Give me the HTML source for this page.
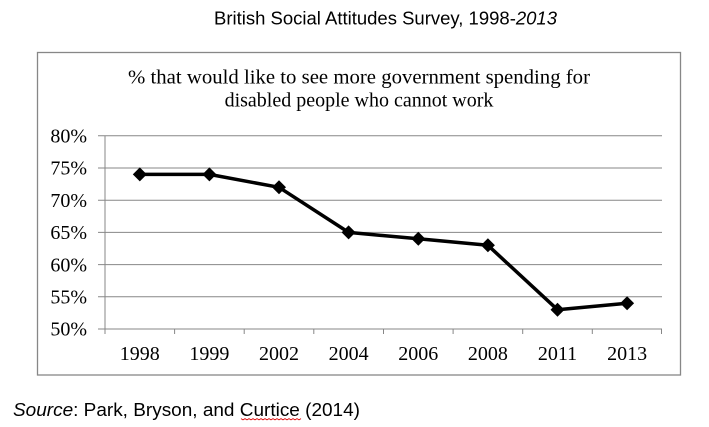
<!DOCTYPE html>
<html>
<head>
<meta charset="utf-8">
<style>
  html, body { margin:0; padding:0; background:#fff; }
  svg { display:block; }
</style>
</head>
<body>
<svg width="709" height="427" viewBox="0 0 709 427" xmlns="http://www.w3.org/2000/svg">
  <rect x="0" y="0" width="709" height="427" fill="#fff"/>
  <!-- Top title -->
  <text x="214" y="24.5" font-family="Liberation Sans, Arial, sans-serif" font-size="18" fill="#000" textLength="343" lengthAdjust="spacingAndGlyphs">British Social Attitudes Survey, 1998-<tspan font-style="italic">2013</tspan></text>

  <!-- Chart box -->
  <rect x="37.5" y="52.5" width="643" height="322.5" fill="#fff" stroke="#878787" stroke-width="1.3"/>

  <!-- Chart title -->
  <text x="359" y="83.3" text-anchor="middle" font-family="Liberation Serif, Times New Roman, serif" font-size="20" fill="#000" textLength="462" lengthAdjust="spacingAndGlyphs">% that would like to see more government spending for</text>
  <text x="359" y="106.7" text-anchor="middle" font-family="Liberation Serif, Times New Roman, serif" font-size="20" fill="#000">disabled people who cannot work</text>

  <!-- Gridlines -->
  <g stroke="#878787" stroke-width="1">
    <line x1="98" y1="135.8" x2="662" y2="135.8"/>
    <line x1="98" y1="168" x2="662" y2="168"/>
    <line x1="98" y1="200.2" x2="662" y2="200.2"/>
    <line x1="98" y1="232.4" x2="662" y2="232.4"/>
    <line x1="98" y1="264.6" x2="662" y2="264.6"/>
    <line x1="98" y1="296.8" x2="662" y2="296.8"/>
    <line x1="98" y1="329" x2="662" y2="329"/>
    <!-- y axis -->
    <line x1="105" y1="135.8" x2="105" y2="334"/>
    <!-- x ticks -->
    <line x1="174.6" y1="329" x2="174.6" y2="334"/>
    <line x1="244.2" y1="329" x2="244.2" y2="334"/>
    <line x1="313.8" y1="329" x2="313.8" y2="334"/>
    <line x1="383.5" y1="329" x2="383.5" y2="334"/>
    <line x1="453.1" y1="329" x2="453.1" y2="334"/>
    <line x1="522.7" y1="329" x2="522.7" y2="334"/>
    <line x1="592.3" y1="329" x2="592.3" y2="334"/>
    <line x1="661.5" y1="329" x2="661.5" y2="334"/>
  </g>

  <!-- Y labels -->
  <g font-family="Liberation Serif, Times New Roman, serif" font-size="20" fill="#000" text-anchor="end">
    <text x="87" y="142.5">80%</text>
    <text x="87" y="174.7">75%</text>
    <text x="87" y="206.9">70%</text>
    <text x="87" y="239.1">65%</text>
    <text x="87" y="271.3">60%</text>
    <text x="87" y="303.5">55%</text>
    <text x="87" y="335.7">50%</text>
  </g>

  <!-- X labels -->
  <g font-family="Liberation Serif, Times New Roman, serif" font-size="20" fill="#000" text-anchor="middle">
    <text x="139.8" y="360">1998</text>
    <text x="209.4" y="360">1999</text>
    <text x="279" y="360">2002</text>
    <text x="348.6" y="360">2004</text>
    <text x="418.3" y="360">2006</text>
    <text x="487.9" y="360">2008</text>
    <text x="557.5" y="360">2011</text>
    <text x="627.1" y="360">2013</text>
  </g>

  <!-- Series line -->
  <polyline fill="none" stroke="#000" stroke-width="3.5" stroke-linejoin="round"
    points="139.8,174.4 209.4,174.4 279,187.3 348.6,232.4 418.3,238.8 487.9,245.3 557.5,309.7 627.1,303.2"/>

  <!-- Markers -->
  <g fill="#000">
    <polygon points="139.8,167.4 146.8,174.4 139.8,181.4 132.8,174.4"/>
    <polygon points="209.4,167.4 216.4,174.4 209.4,181.4 202.4,174.4"/>
    <polygon points="279,180.3 286,187.3 279,194.3 272,187.3"/>
    <polygon points="348.6,225.4 355.6,232.4 348.6,239.4 341.6,232.4"/>
    <polygon points="418.3,231.8 425.3,238.8 418.3,245.8 411.3,238.8"/>
    <polygon points="487.9,238.3 494.9,245.3 487.9,252.3 480.9,245.3"/>
    <polygon points="557.5,302.7 564.5,309.7 557.5,316.7 550.5,309.7"/>
    <polygon points="627.1,296.2 634.1,303.2 627.1,310.2 620.1,303.2"/>
  </g>

  <!-- Source -->
  <text x="13" y="416" font-family="Liberation Sans, Arial, sans-serif" font-size="18.5" fill="#000" textLength="347" lengthAdjust="spacingAndGlyphs"><tspan font-style="italic">Source</tspan>: Park, Bryson, and Curtice (2014)</text>
  <polyline fill="none" stroke="#d00" stroke-width="0.9"
    points="241,418.6 243,419.9 245,418.6 247,419.9 249,418.6 251,419.9 253,418.6 255,419.9 257,418.6 259,419.9 261,418.6 263,419.9 265,418.6 267,419.9 269,418.6 271,419.9 273,418.6 275,419.9 277,418.6 279,419.9 281,418.6 283,419.9 285,418.6 287,419.9 289,418.6 291,419.9 293,418.6 295,419.9 297,418.6 299,419.9 301,418.6"/>
</svg>
</body>
</html>
